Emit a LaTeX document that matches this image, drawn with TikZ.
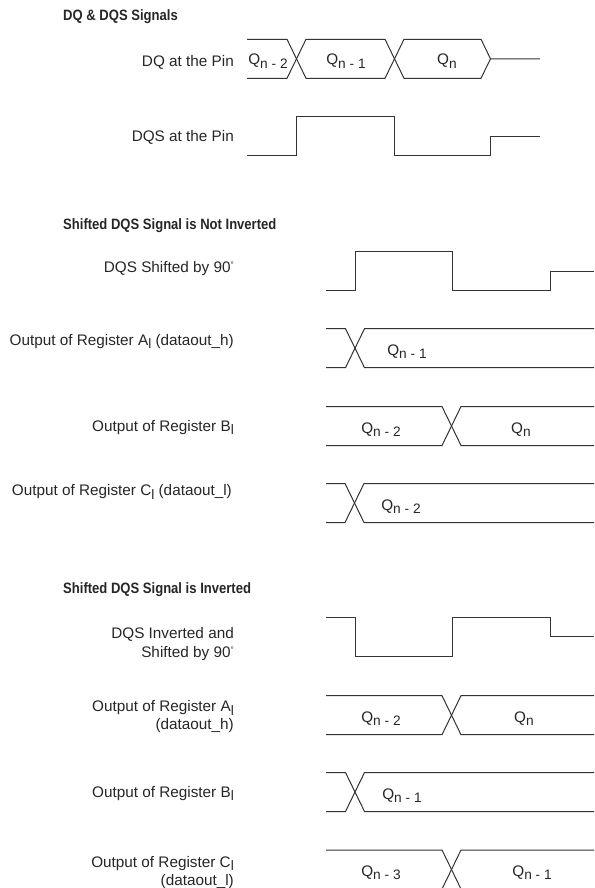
\documentclass[tikz,border=0pt]{standalone}
\usepackage{fontspec}
\setmainfont{Liberation Sans}
\newfontfamily\headfont[FakeStretch=0.87]{Liberation Sans}
\newcommand\lo[1]{\raisebox{-3.5pt}{\fontsize{13.7}{14}\selectfont #1}}
\newcommand\qv[1]{Q\lo{#1}}
\newcommand\dgr{\raisebox{5pt}{\fontsize{8}{8}\selectfont °}}

\begin{document}
\begin{tikzpicture}[x=1pt, y=-1pt,
    every node/.style={inner sep=0pt, text=black!85, font=\fontsize{15.3}{18}\selectfont},
    wave/.style={draw=black!80, line width=1pt},
    lbl/.style={anchor=base east},
    val/.style={anchor=base},
    head/.style={anchor=base west, font=\headfont\bfseries\fontsize{15}{17}\selectfont}]
  \useasboundingbox (0,0) rectangle (594,888);
  \clip (0,0) rectangle (594,888);

  % headings
  \node[head] (hdPin)  at (63,21)  {DQ \& DQS Signals};
  \node[head] (hdNorm) at (63,229) {Shifted DQS Signal is Not Inverted};
  \node[head] (hdInv)  at (63,593) {Shifted DQS Signal is Inverted};

  % signal names
  \node[lbl] (nDQ)    at (234,66.5)  {DQ at the Pin};
  \node[lbl] (nDQS)   at (234,141.5) {DQS at the Pin};
  \node[lbl] (nShift) at (234,272)   {DQS Shifted by 90\dgr};
  \node[lbl] (nAh)    at (234,345)   {Output of Register A\lo{l} (dataout\_h)};
  \node[lbl] (nBh)    at (234,431)   {Output of Register B\lo{l}};
  \node[lbl] (nCh)    at (232,495.5) {Output of Register C\lo{l} (dataout\_l)};
  \node[lbl] (nInv)   at (234,638)   {DQS Inverted and};
  \node[lbl] (nInvb)  at (234,657)   {Shifted by 90\dgr};
  \node[lbl] (nAi)    at (234,711.5) {Output of Register A\lo{l}};
  \node[lbl] (nAib)   at (234,729)   {(dataout\_h)};
  \node[lbl] (nBi)    at (234,797)   {Output of Register B\lo{l}};
  \node[lbl] (nCi)    at (234,867)   {Output of Register C\lo{l}};
  \node[lbl] (nCib)   at (234,885.5) {(dataout\_l)};

  % DQ and DQS at the pin
  \draw[wave] (247,39.3) -- (287,39.3) -- (306,78.3) -- (385,78.3) -- (404,39.3)
    -- (481,39.3) -- (490.5,58.8) -- (540,58.8);
  \draw[wave] (247,78.3) -- (287,78.3) -- (306,39.3) -- (385,39.3) -- (404,78.3)
    -- (481,78.3) -- (490.5,58.8);
  \draw[wave] (247,155.7) -| (296.5,117) -| (394.5,155.7) -| (490.5,136.7) -- (540,136.7);

  % shifted strobes
  \draw[wave] (326,290.7) -| (355,251.7) -| (452.5,290.7) -| (550,271) -- (594,271);
  \draw[wave] (326,617.3) -| (355.5,656) -| (452.5,617.3) -| (550,636.7) -- (594,636.7);

  % register outputs
  \foreach \xc/\yt in {355/328.7, 451.5/406.5, 354.5/483.5, 451.5/695.7, 355/772.5, 451.5/850}
  {
    \draw[wave] (326,\yt) -- ({\xc-9.5},\yt) -- ({\xc+9.5},{\yt+39}) -- (594,{\yt+39});
    \draw[wave] (326,{\yt+39}) -- ({\xc-9.5},{\yt+39}) -- ({\xc+9.5},\yt) -- (594,\yt);
  }

  % data values
  \node[val] (v1) at (268,65)  {\qv{n - 2}};
  \node[val] (v2) at (346,65)  {\qv{n - 1}};
  \node[val] (v3) at (447,65)  {\qv{n}};
  \node[val] (v4) at (407,355) {\qv{n - 1}};
  \node[val] (v5) at (381,433) {\qv{n - 2}};
  \node[val] (v6) at (521,433) {\qv{n}};
  \node[val] (v7) at (401,510) {\qv{n - 2}};
  \node[val] (v8) at (381,722) {\qv{n - 2}};
  \node[val] (v9) at (524,722) {\qv{n}};
  \node[val] (v10) at (402,799) {\qv{n - 1}};
  \node[val] (v11) at (381,876) {\qv{n - 3}};
  \node[val] (v12) at (532,876) {\qv{n - 1}};
\end{tikzpicture}
\end{document}
